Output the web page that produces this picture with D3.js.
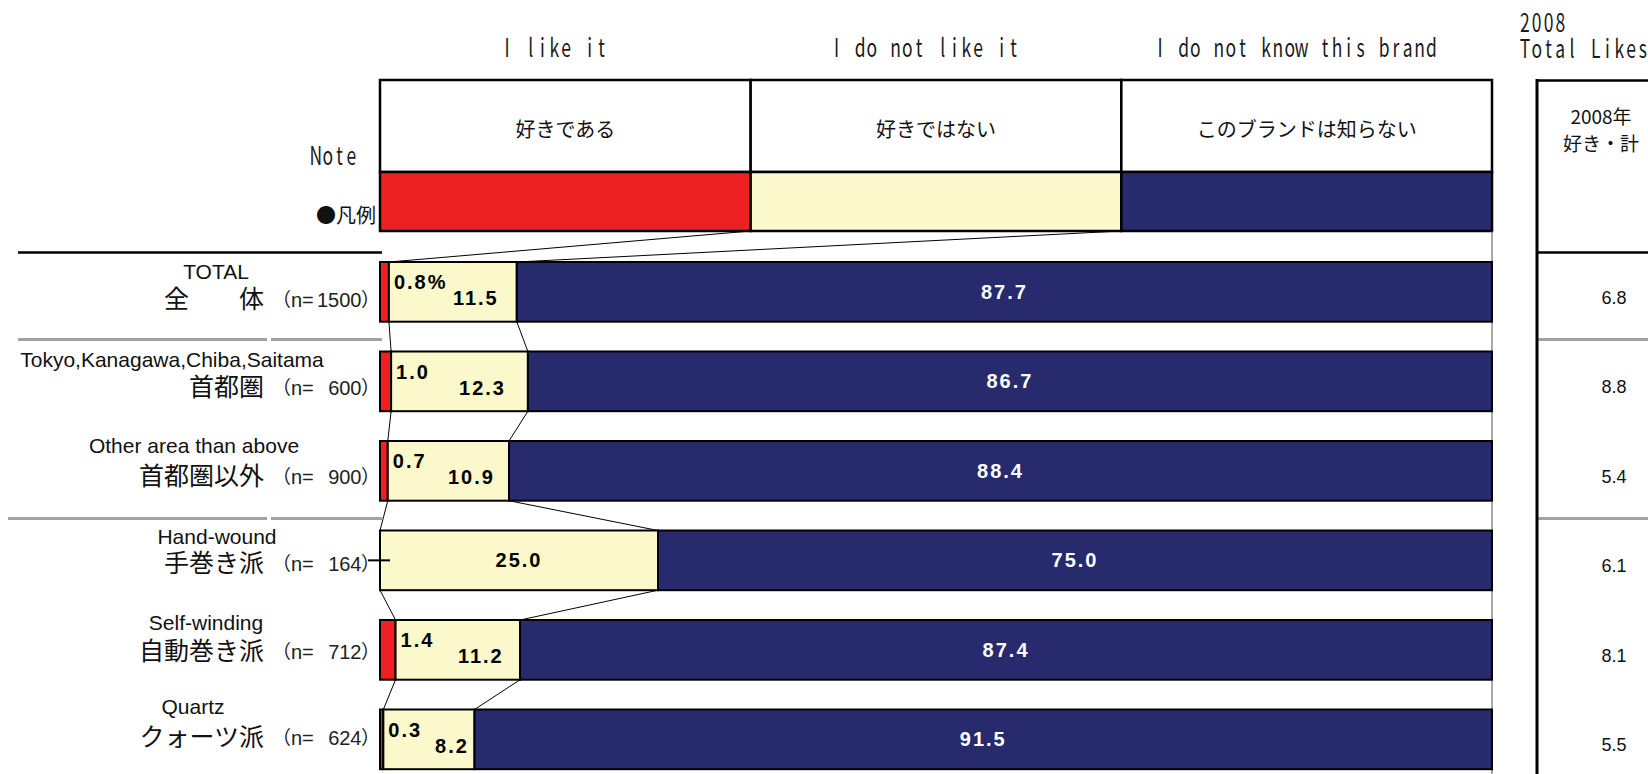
<!DOCTYPE html>
<html>
<head>
<meta charset="utf-8">
<script src="https://cdn.jsdelivr.net/npm/d3@7"></script>
<style>
  html, body { margin: 0; padding: 0; background: #ffffff; }
  svg { display: block; }
</style>
</head>
<body>
<svg id="chart" width="1648" height="774"></svg>
<script>
// ---------------- DATA ----------------
const categoriesJa = ["全\u3000\u3000体", "首都圏", "首都圏以外", "手巻き派", "自動巻き派", "クォーツ派"];
const categoriesEn = ["TOTAL", "Tokyo,Kanagawa,Chiba,Saitama", "Other area than above", "Hand-wound", "Self-winding", "Quartz"];
const sampleSizes = [1500, 600, 900, 164, 712, 624];
const seriesKeys = ["like", "dislike", "unknown"];
const seriesEn = ["I like it", "I do not like it", "I do not know this brand"];
const seriesJa = ["好きである", "好きではない", "このブランドは知らない"];
const likeValues = [0.8, 1.0, 0.7, 0.0, 1.4, 0.3];
const dislikeValues = [11.5, 12.3, 10.9, 25.0, 11.2, 8.2];
const unknownValues = [87.7, 86.7, 88.4, 75.0, 87.4, 91.5];
const likes2008 = [6.8, 8.8, 5.4, 6.1, 8.1, 5.5];
const groupStarts = [1, 3];

// ---------------- LAYOUT ----------------
const colors = { like: "#ED2024", dislike: "#FBF8CC", unknown: "#282A6E" };
const enLabelX = [216, 172, 194, 217, 206, 193];
const enLabelDy = [17, 15, 12, 13.5, 10, 4];
const jaLabelDy = [46, 44.5, 43.5, 41.5, 39.5, 36.5];

const svg = d3.select("#chart");
const x = d3.scaleLinear().domain([0, 100]).range([380, 1492]);
const y = d3.scaleBand().domain(d3.range(categoriesJa.length))
  .range([262, 769.2]).paddingInner(0.333).paddingOuter(0);
const bw = y.bandwidth();

const rows = categoriesJa.map((c, i) => ({
  i, like: likeValues[i], dislike: dislikeValues[i], unknown: unknownValues[i]
}));
const stacked = d3.stack().keys(seriesKeys)(rows);

const CJK = '"Noto Sans CJK JP", "Noto Sans", sans-serif';
const SANS = '"Liberation Sans", Arial, sans-serif';

// monospace-like (half-width gothic) text, each char centred in its own cell
function monoText(parent, str, xStart, baseline, opts = {}) {
  const cell = opts.cell || 11.8, size = opts.size || 25, sx = opts.sx || 0.7;
  const chars = Array.from(str);
  const xs = chars.map((c, k) => (cell * (k + 0.5)) / sx);
  return parent.append("text")
    .attr("transform", `translate(${xStart},${baseline}) scale(${sx},1)`)
    .attr("x", xs.join(" ")).attr("y", 0)
    .attr("text-anchor", "middle")
    .attr("font-family", CJK)
    .attr("font-size", size)
    .attr("fill", "#1a1a1a")
    .text(str);
}

// ---------------- LEGEND / HEADER ----------------
const legendTop = 80, legendMid = 172, legendBot = 231;
const colEdges = [0, 100 / 3, 200 / 3, 100];
const lg = svg.append("g");
seriesKeys.forEach((k, j) => {
  const x0 = x(colEdges[j]), x1 = x(colEdges[j + 1]);
  lg.append("rect").attr("x", x0).attr("y", legendTop).attr("width", x1 - x0)
    .attr("height", legendMid - legendTop).attr("fill", "#fff")
    .attr("stroke", "#000").attr("stroke-width", 2.5);
  lg.append("rect").attr("x", x0).attr("y", legendMid).attr("width", x1 - x0)
    .attr("height", legendBot - legendMid).attr("fill", colors[k])
    .attr("stroke", "#000").attr("stroke-width", 2.5);
  lg.append("text").attr("x", (x0 + x1) / 2).attr("y", 137)
    .attr("text-anchor", "middle").attr("font-family", CJK).attr("font-size", 20)
    .attr("fill", "#111").text(seriesJa[j]);
  const w = Array.from(seriesEn[j]).length * 11.8;
  monoText(lg, seriesEn[j], (x0 + x1) / 2 - 11 - w / 2, 57);
});
monoText(lg, "Note", 310, 165);
lg.append("text").attr("x", 376).attr("y", 223).attr("text-anchor", "end")
  .attr("font-family", CJK).attr("font-size", 20).attr("fill", "#111").text("●凡例");

// right edge line of plot area
svg.append("line").attr("x1", x(100)).attr("x2", x(100)).attr("y1", legendBot).attr("y2", 774)
  .attr("stroke", "#555").attr("stroke-width", 1);

// top left rule
svg.append("line").attr("x1", 18).attr("x2", 382).attr("y1", 252.5).attr("y2", 252.5)
  .attr("stroke", "#000").attr("stroke-width", 2.5);

// group separators (grey)
groupStarts.forEach((gi, k) => {
  const yy = (y(gi - 1) + bw + y(gi)) / 2 + 3;
  const left = k === 0 ? 18 : 8;
  [[left, 267], [271, 382], [1537, 1648]].forEach(([a, b]) => {
    svg.append("line").attr("x1", a).attr("x2", b).attr("y1", yy).attr("y2", yy)
      .attr("stroke", "#a2a2a2").attr("stroke-width", 3);
  });
});

// ---------------- CONNECTOR LINES ----------------
const cum1 = rows.map(r => r.like);
const cum2 = rows.map(r => r.like + r.dislike);
const conn = svg.append("g").attr("stroke", "#000").attr("stroke-width", 1).attr("fill", "none");
conn.append("line").attr("x1", x(colEdges[1])).attr("y1", legendBot).attr("x2", x(cum1[0])).attr("y2", y(0));
conn.append("line").attr("x1", x(colEdges[2])).attr("y1", legendBot).attr("x2", x(cum2[0])).attr("y2", y(0));
for (let i = 0; i < rows.length - 1; i++) {
  conn.append("line").attr("x1", x(cum1[i])).attr("y1", y(i) + bw).attr("x2", x(cum1[i + 1])).attr("y2", y(i + 1));
  conn.append("line").attr("x1", x(cum2[i])).attr("y1", y(i) + bw).attr("x2", x(cum2[i + 1])).attr("y2", y(i + 1));
}

// ---------------- BARS ----------------
const bars = svg.append("g");
stacked.forEach(s => {
  bars.selectAll(null).data(s.filter(d => d[1] - d[0] > 0)).enter().append("rect")
    .attr("x", d => x(d[0])).attr("y", d => y(d.data.i))
    .attr("width", d => x(d[1]) - x(d[0])).attr("height", bw)
    .attr("fill", colors[s.key]).attr("stroke", "#000").attr("stroke-width", 2);
});

// zero-value tick
rows.filter(r => r.like === 0).forEach(r => {
  svg.append("line").attr("x1", x(0) - 12).attr("x2", x(0) + 10)
    .attr("y1", y(r.i) + bw / 2).attr("y2", y(r.i) + bw / 2)
    .attr("stroke", "#000").attr("stroke-width", 2);
});

// ---------------- VALUE LABELS ----------------
const fmt = d3.format(".1f");
const vl = svg.append("g").attr("font-family", SANS).attr("font-weight", "bold")
  .attr("font-size", 20).attr("letter-spacing", 2);
rows.forEach((r, i) => {
  const top = y(i), mid = top + bw / 2;
  if (r.like > 0) {
    vl.append("text").attr("x", x(cum1[i]) + 5).attr("y", top + 27)
      .attr("fill", "#000").text(fmt(r.like) + (i === 0 ? "%" : ""));
    vl.append("text").attr("x", (x(cum1[i]) + x(cum2[i])) / 2 + 23).attr("y", top + 43)
      .attr("text-anchor", "middle").attr("fill", "#000").text(fmt(r.dislike));
  } else {
    vl.append("text").attr("x", (x(cum1[i]) + x(cum2[i])) / 2).attr("y", mid + 7)
      .attr("text-anchor", "middle").attr("fill", "#000").text(fmt(r.dislike));
  }
  vl.append("text").attr("x", (x(cum2[i]) + x(100)) / 2).attr("y", mid + 7)
    .attr("text-anchor", "middle").attr("fill", "#fff").text(fmt(r.unknown));
});

// ---------------- ROW LABELS ----------------
const rl = svg.append("g");
rows.forEach((r, i) => {
  const top = y(i);
  rl.append("text").attr("x", enLabelX[i]).attr("y", top + enLabelDy[i])
    .attr("text-anchor", "middle").attr("font-family", SANS).attr("font-size", 21)
    .attr("fill", "#111").text(categoriesEn[i]);
  const jb = top + jaLabelDy[i];
  rl.append("text").attr("x", 264).attr("y", jb).attr("text-anchor", "end")
    .attr("font-family", CJK).attr("font-size", 25).attr("fill", "#111").text(categoriesJa[i]);
  rl.append("text").attr("x", 272).attr("y", jb - 1).attr("font-family", CJK)
    .attr("font-size", 19).attr("fill", "#222").text("（");
  rl.append("text").attr("x", 291).attr("y", jb - 1).attr("font-family", SANS)
    .attr("font-size", 20).attr("fill", "#222").text("n=");
  rl.append("text").attr("x", 361.5).attr("y", jb - 1).attr("text-anchor", "end").attr("font-family", SANS)
    .attr("font-size", 20).attr("fill", "#222").text(String(sampleSizes[i]));
  rl.append("text").attr("x", 361).attr("y", jb - 1).attr("font-family", CJK)
    .attr("font-size", 19).attr("fill", "#222").text("）");
});

// ---------------- RIGHT TABLE (2008 Total Likes) ----------------
const rt = svg.append("g");
monoText(rt, "2008", 1519, 31.5);
monoText(rt, "Total Likes", 1519, 58);
rt.append("line").attr("x1", 1537).attr("x2", 1537).attr("y1", 79).attr("y2", 774)
  .attr("stroke", "#000").attr("stroke-width", 3);
rt.append("line").attr("x1", 1536).attr("x2", 1648).attr("y1", 80.5).attr("y2", 80.5)
  .attr("stroke", "#000").attr("stroke-width", 2.5);
rt.append("line").attr("x1", 1536).attr("x2", 1648).attr("y1", 252.5).attr("y2", 252.5)
  .attr("stroke", "#000").attr("stroke-width", 2.5);
rt.append("text").attr("x", 1601).attr("y", 124).attr("text-anchor", "middle")
  .attr("font-family", CJK).attr("font-size", 19).attr("fill", "#111").text("2008年");
rt.append("text").attr("x", 1601).attr("y", 151).attr("text-anchor", "middle")
  .attr("font-family", CJK).attr("font-size", 19).attr("fill", "#111").text("好き・計");
rt.selectAll("text.v").data(likes2008).enter().append("text").attr("class", "v")
  .attr("x", 1614).attr("y", (d, i) => y(i) + bw / 2 + 12).attr("text-anchor", "middle")
  .attr("font-family", SANS).attr("font-size", 18).attr("fill", "#111").text(d => fmt(d));
</script>
</body>
</html>
